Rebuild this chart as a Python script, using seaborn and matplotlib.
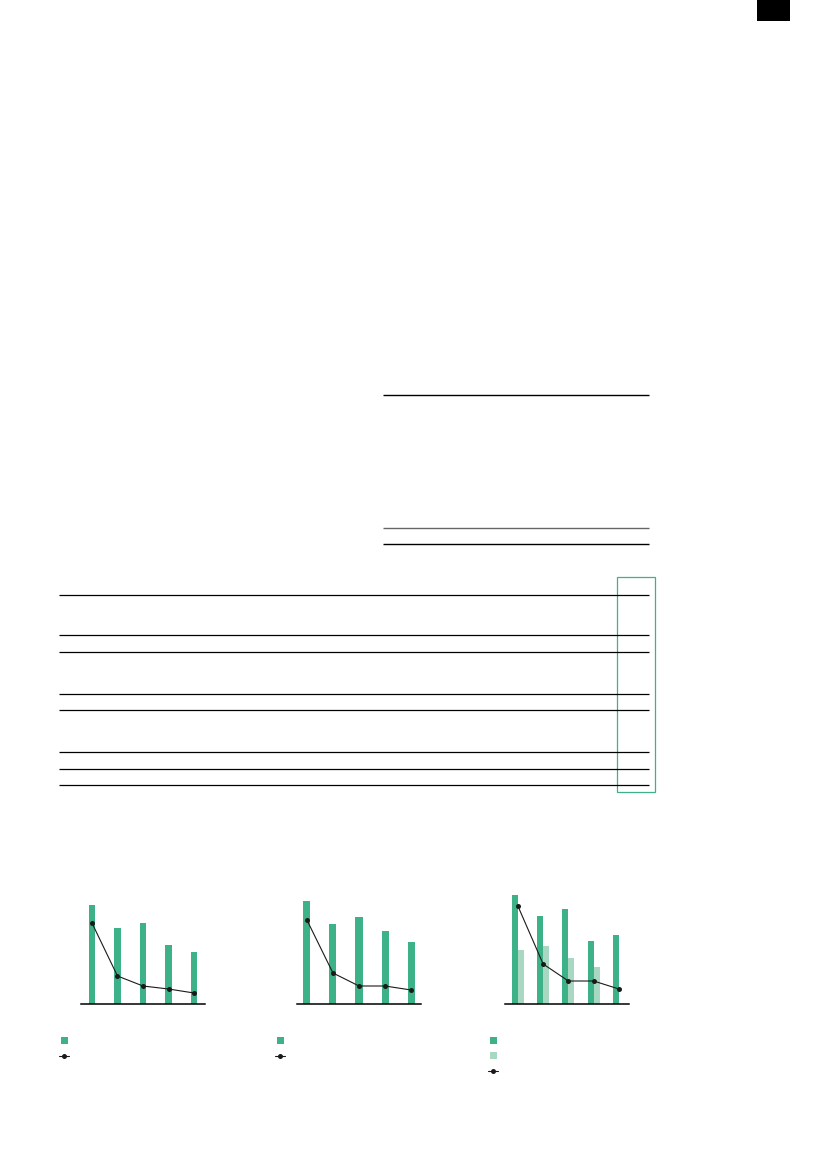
import matplotlib
matplotlib.use("Agg")
import matplotlib.pyplot as plt
from matplotlib.lines import Line2D
from matplotlib.patches import Rectangle
import numpy as np
import pandas as pd
import seaborn as sns

sns.set_theme(style="white")
plt.rcParams["font.family"] = ["DejaVu Sans"]

periods = ["1", "2", "3", "4", "5"]
chart1_bars = [99, 76, 81, 59, 52]
chart1_line = [81, 28, 18, 15, 11]
chart2_bars = [103, 80, 87, 73, 62]
chart2_line = [84, 31, 18, 18, 14]
chart3_bars_dark = [109, 88, 95, 63, 69]
chart3_bars_light = [54, 58, 46, 37, np.nan]
chart3_line = [98, 40, 23, 23, 15]

GREEN = "#3db289"
LIGHT_GREEN = "#a8d8c2"
W, H = 827, 1169

fig = plt.figure(figsize=(W / 100, H / 100), dpi=100)


def px_axes(x0, x1, y_top, y_bottom):
    """Оси по пиксельным координатам страницы."""
    return fig.add_axes([x0 / W, 1 - y_bottom / H, (x1 - x0) / W, (y_bottom - y_top) / H])


# Слой страницы: линейки, рамка таблицы, метка раздела
page = px_axes(0, W, 0, H)
page.set_xlim(0, W)
page.set_ylim(H, 0)
page.axis("off")

page.add_patch(Rectangle((757, 0), 33, 21, color="black", lw=0))

page.hlines([395, 544], 383, 649, color="black", lw=1.0)
page.hlines(528, 383, 649, color="#666666", lw=1.0)

table_rules = [595, 635, 652, 694, 710, 752, 769, 785]
page.hlines(table_rules, 59, 649, color="black", lw=0.9)
page.add_patch(Rectangle((617, 577), 38, 215, fill=False, edgecolor=GREEN, lw=0.9))


def small_chart(ax, bars, line, xlim, light=None):
    if light is None:
        df = pd.DataFrame({"period": periods, "value": bars})
        sns.barplot(data=df, x="period", y="value", color=GREEN, width=0.27,
                    saturation=1, linewidth=0, ax=ax)
    else:
        df = pd.DataFrame({
            "period": periods * 2,
            "value": list(bars) + list(light),
            "series": ["a"] * 5 + ["b"] * 5,
        })
        sns.barplot(data=df, x="period", y="value", hue="series",
                    palette=[GREEN, LIGHT_GREEN], width=0.48, saturation=1,
                    linewidth=0, legend=False, ax=ax)
    sns.lineplot(x=np.arange(len(line)), y=line, color="#1a1a1a", lw=0.8,
                 marker="o", markersize=3.6, markeredgewidth=0, ax=ax)
    ax.set_xlim(*xlim)
    ax.set_ylim(0, 120)
    ax.set_xlabel("")
    ax.set_ylabel("")
    ax.set_xticks([])
    ax.set_yticks([])
    for side in ["top", "left", "right"]:
        ax.spines[side].set_visible(False)
    ax.spines["bottom"].set_color("black")
    ax.spines["bottom"].set_linewidth(1.1)
    ax.patch.set_alpha(0)


ax1 = px_axes(81, 205, 884, 1004)
small_chart(ax1, chart1_bars, chart1_line, (-0.43, 4.43))

ax2 = px_axes(297, 421, 884, 1004)
small_chart(ax2, chart2_bars, chart2_line, (-0.38, 4.38))

ax3 = px_axes(505, 629, 884, 1004)
small_chart(ax3, chart3_bars_dark, chart3_line, (-0.51, 4.4), light=chart3_bars_light)

# Условные обозначения (текст в исходнике отсутствует)
legend_items = [
    (64, [("bar", GREEN), ("line", None)]),
    (280, [("bar", GREEN), ("line", None)]),
    (493, [("bar", GREEN), ("bar", LIGHT_GREEN), ("line", None)]),
]
for x, items in legend_items:
    for i, (kind, col) in enumerate(items):
        y = 1040 + 15.5 * i
        if kind == "bar":
            page.add_patch(Rectangle((x - 3.5, y - 3.5), 7, 7, color=col, lw=0))
        else:
            page.add_line(Line2D([x - 5, x + 5], [y, y], color="#1a1a1a", lw=0.8))
            page.plot([x], [y], "o", color="#1a1a1a", markersize=3.6, markeredgewidth=0)

fig.savefig("out.png", dpi=100)
